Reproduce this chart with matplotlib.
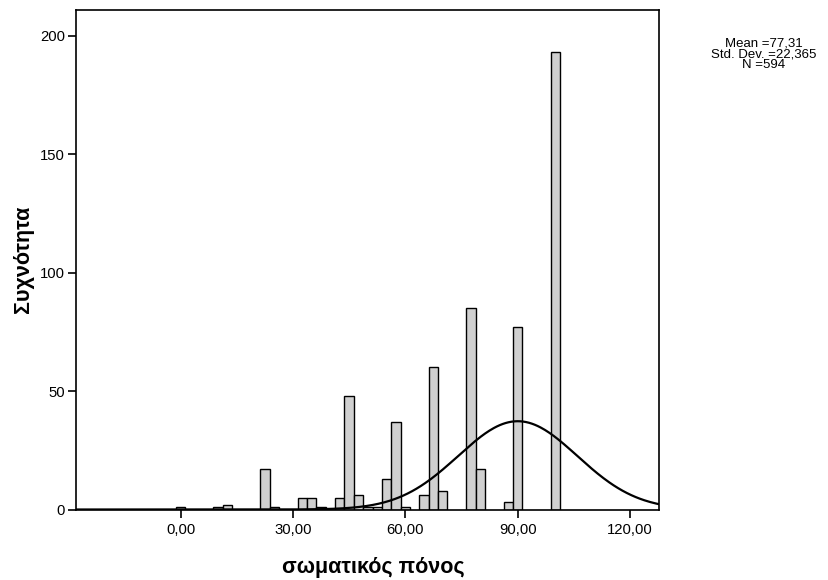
import numpy as np
import matplotlib
matplotlib.use("Agg")
import matplotlib.pyplot as plt

plt.rcParams['font.family'] = ['Liberation Sans', 'DejaVu Sans']

# histogram bins (centre of each bin, width 2.5) and counts
bin_centres = [0, 10, 12.5, 22.5, 25, 32.5, 35, 37.5, 42.5, 45, 47.5, 50,
               52.5, 55, 57.5, 60, 65, 67.5, 70, 77.5, 80, 87.5, 90, 100]
counts = [1, 1, 2, 17, 1, 5, 5, 1, 5, 48, 6, 1,
          1, 13, 37, 1, 6, 60, 8, 85, 17, 3, 77, 193]
bin_width = 2.5

# normal curve as drawn on the chart (axis units)
curve_mean = 90.0
curve_sd = 15.9
n_total = 594

xticks = [0, 30, 60, 90, 120]
xtick_labels = ["0,00", "30,00", "60,00", "90,00", "120,00"]
yticks = [0, 50, 100, 150, 200]
stats_lines = ["Mean =77,31", "Std. Dev. =22,365", "N =594"]

fig = plt.figure(figsize=(8.29, 5.8), dpi=100)
ax = fig.add_axes([76/829, 1 - 509.5/580, (659 - 76)/829, (509.5 - 10)/580])

ax.bar(bin_centres, counts, width=bin_width, color="#d0d0d0",
       edgecolor="black", linewidth=1.0, zorder=2)

xmin, xmax = -27.9, 127.7
xs = np.linspace(xmin, xmax, 400)
ys = n_total * bin_width / (curve_sd * np.sqrt(2 * np.pi)) * \
    np.exp(-0.5 * ((xs - curve_mean) / curve_sd) ** 2)
ax.plot(xs, ys, color="black", linewidth=1.6, zorder=3)

ax.set_xlim(xmin, xmax)
ax.set_ylim(0, 210.8)
ax.set_xticks(xticks)
ax.set_xticklabels(xtick_labels)
ax.set_yticks(yticks)
ax.tick_params(axis="both", direction="out", length=6, width=1.2,
               labelsize=10.7, colors="black")
ax.tick_params(axis="y", pad=2)
for s in ax.spines.values():
    s.set_linewidth(1.2)
    s.set_color("black")

ax.set_xlabel("σωματικός πόνος", fontsize=15.5, fontweight="bold", labelpad=15)
ax.xaxis.set_label_coords(0.51, -0.095)
ax.set_ylabel("Συχνότητα", fontsize=15.5, fontweight="bold", labelpad=4)

# stats box text, one line per text so the spacing stays tight
for i, line in enumerate(stats_lines):
    fig.text(764/829, 1 - (44 + i*10.5)/580, line, ha="center", va="center",
             fontsize=9.5)

fig.savefig("out.png", dpi=100)
